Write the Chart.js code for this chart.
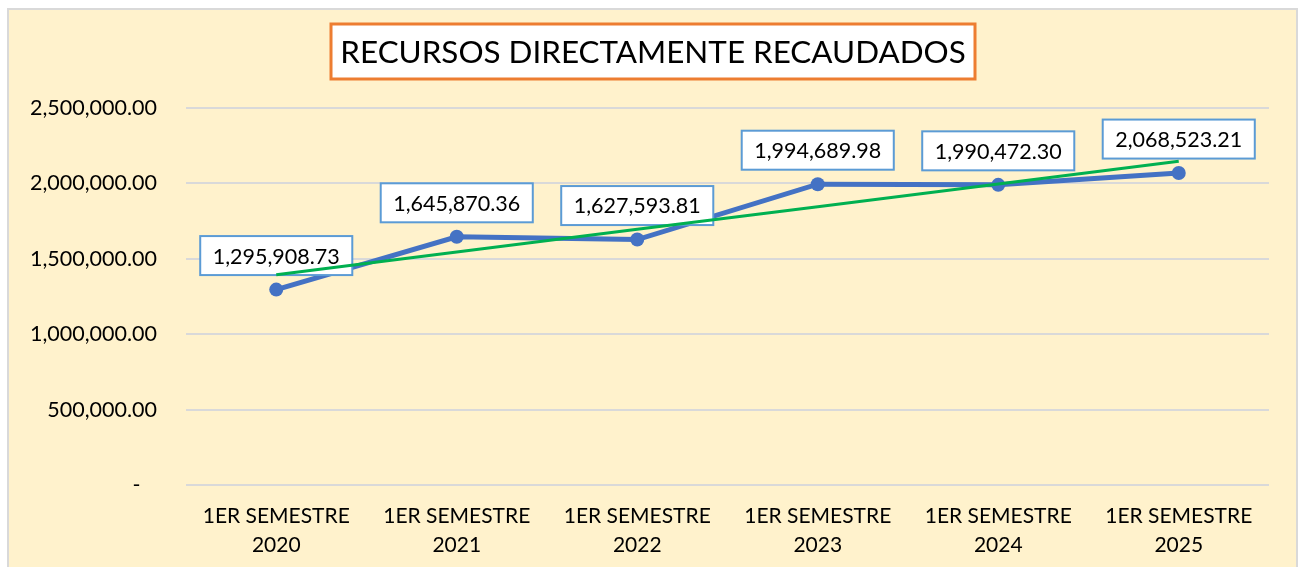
<!DOCTYPE html>
<html>
<head>
<meta charset="utf-8">
<script src="https://cdn.jsdelivr.net/npm/chart.js@4.4.1/dist/chart.umd.min.js"></script>
<style>
body { margin: 0; background: #fff; }
#Chart { position: absolute; left: 7px; top: 8px; width: 1287px; height: 570px;
         border: 2px solid #D9D9D9; background: #FFF2CC; }
#myChart { display: block; }
</style>
</head>
<body>
<div id="Chart"><canvas id="myChart" width="1287" height="557"></canvas></div>
<script>
const labels = [
    ['1ER SEMESTRE', '2020'],
    ['1ER SEMESTRE', '2021'],
    ['1ER SEMESTRE', '2022'],
    ['1ER SEMESTRE', '2023'],
    ['1ER SEMESTRE', '2024'],
    ['1ER SEMESTRE', '2025']
];
const recursos = [1295908.73, 1645870.36, 1627593.81, 1994689.98, 1990472.30, 2068523.21];

// linear trendline (least squares), like Excel's
const n = recursos.length;
const mx = (n + 1) / 2;
const my = recursos.reduce((a, b) => a + b, 0) / n;
let sxy = 0, sxx = 0;
recursos.forEach((y, i) => { sxy += (i + 1 - mx) * (y - my); sxx += (i + 1 - mx) ** 2; });
const slope = sxy / sxx;
const tendencia = recursos.map((y, i) => my + slope * (i + 1 - mx));

const fmt = v => v.toLocaleString('en-US', { minimumFractionDigits: 2, maximumFractionDigits: 2 });
const FONT = 'Lato, "Open Sans", sans-serif';

const titleBox = {
    id: 'titleBox',
    beforeDatasetsDraw(chart) {
        const ctx = chart.ctx;
        const txt = 'RECURSOS DIRECTAMENTE RECAUDADOS';
        ctx.save();
        ctx.font = '32px ' + FONT;
        const size = 32 * 626 / ctx.measureText(txt).width;
        ctx.fillStyle = '#fff';
        ctx.fillRect(322, 14, 644, 55);
        ctx.strokeStyle = '#ED7D31';
        ctx.lineWidth = 3;
        ctx.strokeRect(322, 14, 644, 55);
        ctx.font = size.toFixed(1) + 'px ' + FONT;
        ctx.fillStyle = '#000';
        ctx.textAlign = 'center';
        ctx.textBaseline = 'middle';
        ctx.fillText(txt, 644, 43);
        ctx.restore();
    }
};

const labelBoxes = {
    id: 'labelBoxes',
    afterDatasetDraw(chart, args) {
        if (args.index !== 1) return;
        const ctx = chart.ctx;
        ctx.save();
        ctx.font = '21.5px ' + FONT;
        args.meta.data.forEach((pt, i) => {
            const txt = fmt(recursos[i]);
            const w = ctx.measureText(txt).width + 25, h = 39;
            const cx = pt.x, cy = pt.y - 34;
            ctx.fillStyle = '#fff';
            ctx.fillRect(cx - w / 2, cy - h / 2, w, h);
            ctx.strokeStyle = '#5B9BD5';
            ctx.lineWidth = 2;
            ctx.strokeRect(cx - w / 2, cy - h / 2, w, h);
            ctx.fillStyle = '#000';
            ctx.textAlign = 'center';
            ctx.textBaseline = 'middle';
            ctx.fillText(txt, cx, cy + 1);
        });
        ctx.restore();
    }
};

const data = {
    labels: labels,
    datasets: [{
        label: 'Lineal',
        data: tendencia,
        fill: false,
        borderColor: '#00B050',
        borderWidth: 3,
        pointRadius: 0,
        tension: 0
    },
    {
        label: 'Recursos',
        data: recursos,
        fill: false,
        borderColor: '#4472C4',
        backgroundColor: '#4472C4',
        borderWidth: 5,
        pointRadius: 7,
        pointBorderWidth: 0,
        tension: 0
    }]
};

const config = {
    type: 'line',
    data,
    options: {
        responsive: false,
        animation: false,
        layout: { padding: { top: 98, right: 27, left: 0, bottom: 0 } },
        plugins: { legend: { display: false }, tooltip: { enabled: false } },
        scales: {
            x: {
                offset: true,
                grid: { display: false, drawTicks: false },
                border: { display: false },
                ticks: { color: '#000', font: { family: FONT, size: 21, lineHeight: 29 / 21 }, padding: 17, maxRotation: 0 },
                afterFit: s => { s.height = 82; }
            },
            y: {
                min: 0,
                max: 2500000,
                ticks: {
                    stepSize: 500000,
                    color: '#000',
                    padding: 29,
                    font: { family: FONT, size: 21.5 },
                    callback: v => v === 0 ? '-   ' : fmt(v)
                },
                grid: { color: '#D9D9D9', lineWidth: 2, drawTicks: false },
                border: { display: false },
                afterFit: s => { s.width = 177; }
            }
        }
    },
    plugins: [titleBox, labelBoxes]
};

new Chart(document.getElementById('myChart'), config);
</script>
</body>
</html>
